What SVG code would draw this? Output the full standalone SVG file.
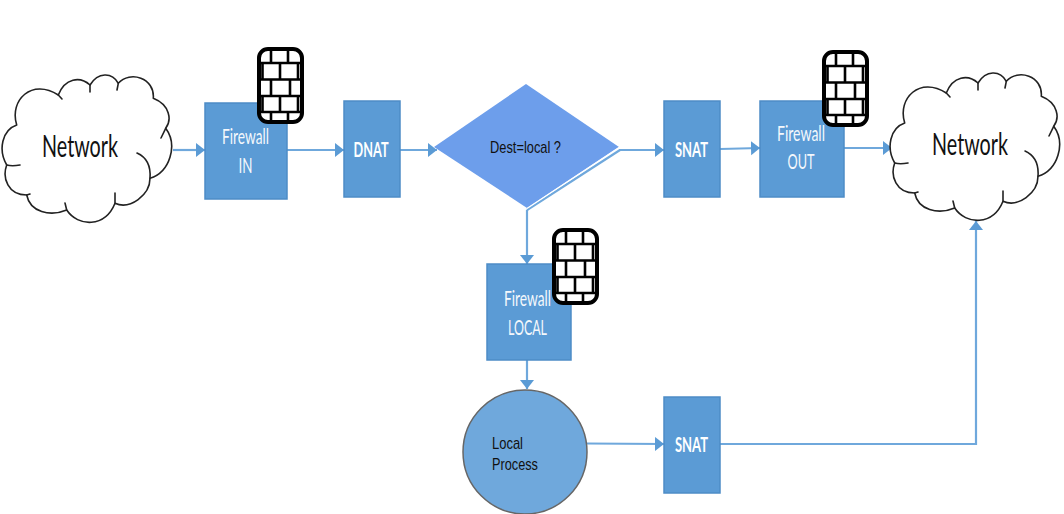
<svg xmlns="http://www.w3.org/2000/svg" xmlns:xlink="http://www.w3.org/1999/xlink" width="1064" height="514" viewBox="0 0 1064 514">
<style>
.box{fill:#5b9bd5;stroke:#4d8cc6;stroke-width:1.5}
.wl{font-family:Lato,"Liberation Sans",sans-serif;fill:#f4f8fc;font-size:22px;text-anchor:middle}
.wb{font-weight:700;fill:#fff;font-size:21px}
.bl{font-family:"Liberation Sans",sans-serif;fill:#111;font-size:17px}
.net{font-family:Lato,"Liberation Sans",sans-serif;fill:#111;font-size:30px;text-anchor:middle}
.conn{fill:none;stroke:#6fa8dc;stroke-width:2.2}
.cl{fill:#fff;stroke:#222;stroke-width:1.6;stroke-linejoin:round;stroke-linecap:round}
.hk{fill:none;stroke:#222;stroke-width:1.6;stroke-linecap:round}
</style>
<defs>
<marker id="arr" markerUnits="userSpaceOnUse" markerWidth="10" markerHeight="15" refX="9" refY="7" orient="auto"><path d="M0 0L9 7L0 14Z" fill="#5b9bd5"/></marker>
<symbol id="wall" viewBox="0 0 47 77" width="47" height="77" overflow="visible">
<rect x="2" y="2" width="43" height="73" rx="9" fill="#fff" stroke="#000" stroke-width="4"/>
<path d="M2 16H45M2 32.500H45M2 49H45M2 65H45M14 2V16M31 2V16M5.500 16V32.500M23 16V32.500M41 16V32.500M14 32.500V49M33 32.500V49M5.500 49V65M23 49V65M41 49V65M14 65V75M31 65V75" fill="none" stroke="#000" stroke-width="2.600"/>
</symbol>
<symbol id="cloud" viewBox="0 0 175 225" width="175" height="225" overflow="visible">
<path class="cl" d="M16.700 125C9 100 32 78 58.300 95C65 78 80 76 90 85C98 72 112 72 118.300 83.300C130 70 155 78 153.300 98.300C170 105 172 120 165.700 128.300C178 145 170 172 150 178.300C150 195 130 210 115 203.300C105 228 78 227 66.700 210C50 217 30 212 26.700 195C8 195 2 178 6.700 165C-2 150 2 130 16.700 125Z"/>
<path class="hk" d="M58.300 95L62 99M90 85L90 92M118.300 83.300L117 90M165.700 128.300L161 138M150 178.300C151 165 146 157 137 153M115 203.300L115 193M66.700 210L65 203M26.700 195L30 194M6.700 165C10 166 15 166 20 165"/>
</symbol>
</defs>
<g id="connectors">
<path class="conn" marker-end="url(#arr)" d="M173 150H205"/>
<path class="conn" marker-end="url(#arr)" d="M287 150H344"/>
<path class="conn" marker-end="url(#arr)" d="M400 150H437"/>
<path class="conn" marker-end="url(#arr)" d="M619 150H664"/>
<path class="conn" marker-end="url(#arr)" d="M720 149L760 148"/>
<path class="conn" marker-end="url(#arr)" d="M844 148H892"/>
<path class="conn" marker-end="url(#arr)" d="M527 210V264"/>
<path class="conn" marker-end="url(#arr)" d="M527 360V389"/>
<path class="conn" marker-end="url(#arr)" d="M587 443.500L664 444"/>
<path class="conn" marker-end="url(#arr)" d="M720 444H976V221"/>
<path class="conn" stroke-width="1.500" d="M527 210L620 150"/>
</g>
<g id="network-in"><use xlink:href="#cloud" href="#cloud" x="0" y="0"/><text class="net" x="80" y="157" textLength="76" lengthAdjust="spacingAndGlyphs">Network</text></g>
<g id="firewall-in"><rect class="box" x="205" y="103" width="82" height="96"/><text class="wl" x="245.500" y="144" textLength="47" lengthAdjust="spacingAndGlyphs">Firewall</text><text class="wl" x="245.500" y="173" textLength="14" lengthAdjust="spacingAndGlyphs">IN</text><use xlink:href="#wall" href="#wall" x="257" y="47"/></g>
<g id="dnat"><rect class="box" x="344" y="101" width="56" height="96"/><text class="wl wb" x="371" y="157" textLength="35" lengthAdjust="spacingAndGlyphs">DNAT</text></g>
<g id="decision"><path d="M434 147L526 84L619 147L527 208Z" fill="#6d9eeb"/><path d="M527 208.500L619 147.500" fill="none" stroke="#fff" stroke-width="1.200"/><text class="bl" x="525.500" y="153" text-anchor="middle" textLength="71" lengthAdjust="spacingAndGlyphs">Dest=local ?</text></g>
<g id="snat-out"><rect class="box" x="664" y="101" width="56" height="96"/><text class="wl wb" x="691.500" y="157" textLength="33" lengthAdjust="spacingAndGlyphs">SNAT</text></g>
<g id="firewall-out"><rect class="box" x="760" y="101" width="84" height="96"/><text class="wl" x="801" y="141" textLength="48" lengthAdjust="spacingAndGlyphs">Firewall</text><text class="wl" x="801" y="169" textLength="27" lengthAdjust="spacingAndGlyphs">OUT</text><use xlink:href="#wall" href="#wall" x="822" y="50"/></g>
<g id="network-out"><use xlink:href="#cloud" href="#cloud" x="888" y="-2"/><text class="net" x="970" y="155" textLength="76" lengthAdjust="spacingAndGlyphs">Network</text></g>
<g id="firewall-local"><rect class="box" x="487" y="264" width="84" height="96"/><text class="wl" x="527.500" y="306" textLength="47" lengthAdjust="spacingAndGlyphs">Firewall</text><text class="wl" x="527.500" y="335" textLength="39" lengthAdjust="spacingAndGlyphs">LOCAL</text><use xlink:href="#wall" href="#wall" x="552" y="228"/></g>
<g id="local-process"><circle cx="525" cy="452" r="62" fill="#6fa8dc" stroke="#666" stroke-width="1.500"/><text class="bl" x="492" y="449" textLength="31" lengthAdjust="spacingAndGlyphs">Local</text><text class="bl" x="492" y="470" textLength="46" lengthAdjust="spacingAndGlyphs">Process</text></g>
<g id="snat-local"><rect class="box" x="664" y="397" width="56" height="96"/><text class="wl wb" x="691.500" y="452" textLength="33" lengthAdjust="spacingAndGlyphs">SNAT</text></g>
</svg>
